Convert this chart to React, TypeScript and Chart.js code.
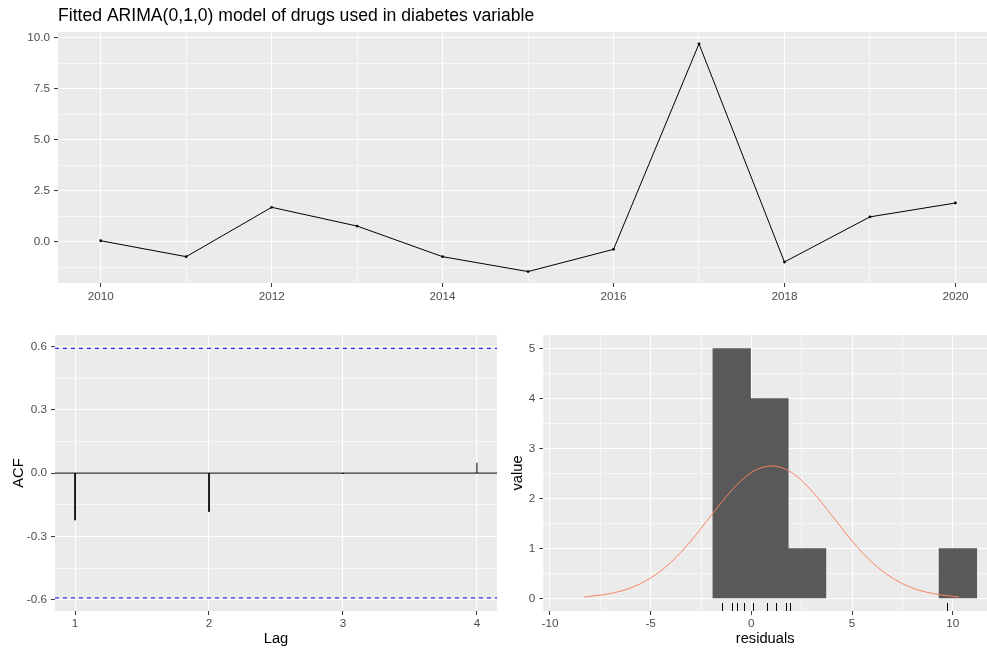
import React, { useEffect, useRef } from "react";
import { Chart, registerables } from "chart.js";

Chart.register(...registerables);

// ---------------- data ----------------
const TITLE = "Fitted ARIMA(0,1,0) model of drugs used in diabetes variable";

// residual time series (top panel)
const TS_YEARS = [2010, 2011, 2012, 2013, 2014, 2015, 2016, 2017, 2018, 2019, 2020];
const TS_VALUES = [0.06, -0.72, 1.7, 0.78, -0.72, -1.45, -0.36, 9.71, -0.98, 1.23, 1.91];
const TS_X_TICKS = [2010, 2012, 2014, 2016, 2018, 2020];
const TS_Y_TICKS = [0, 2.5, 5, 7.5, 10];
const TS_X_RANGE = [2009.5, 2020.37];
const TS_Y_RANGE = [-2.01, 10.29];

// ACF (bottom-left panel)
const ACF_LAGS = [1, 2, 3, 4];
const ACF_VALUES = [-0.223, -0.183, -0.004, 0.049];
const ACF_CI = 0.591;
const ACF_X_TICKS = [1, 2, 3, 4];
const ACF_Y_TICKS = [-0.6, -0.3, 0, 0.3, 0.6];
const ACF_X_RANGE = [0.85, 4.15];
const ACF_Y_RANGE = [-0.653, 0.654];

// histogram of residuals (bottom-right panel)
const HIST_BIN_EDGES = [-1.91, -0.04, 1.83, 3.7, 5.57, 7.44, 9.32, 11.19];
const HIST_COUNTS = [5, 4, 1, 0, 0, 0, 1];
const NORM_X = [-8.3, -7, -6, -5, -4, -3, -2, -1, 0, 1, 2, 3, 4, 5, 6, 7, 8, 9, 10.3];
const NORM_Y = [0.03, 0.1, 0.21, 0.41, 0.72, 1.15, 1.66, 2.15, 2.52, 2.65, 2.52, 2.15, 1.66, 1.15, 0.72, 0.41, 0.21, 0.1, 0.03];
const HIST_X_TICKS = [-10, -5, 0, 5, 10];
const HIST_Y_TICKS = [0, 1, 2, 3, 4, 5];
const HIST_X_RANGE = [-10.33, 11.7];
const HIST_Y_RANGE = [-0.25, 5.27];

// ---------------- styling helpers ----------------
const FONT = "'Liberation Sans', Arial, Helvetica, sans-serif";
const PANEL_BG = "#EBEBEB";
const TICK_TEXT = "#4D4D4D";

type AxisOpts = {
  range: number[];
  majors: number[];
  minors: boolean;
  fmt: (v: number) => string;
  vertical: boolean;
  size: number;
  labelPad: number;
  title?: string;
  titlePad?: any;
};

function buildTicks(majors: number[], range: number[], minors: boolean) {
  const vals: number[] = [...majors];
  if (minors) {
    const step = majors[1] - majors[0];
    for (let i = -1; i < majors.length; i++) vals.push(majors[0] + (i + 0.5) * step);
  }
  return vals.filter((v) => v >= range[0] && v <= range[1]).sort((a, b) => a - b);
}

function makeAxis(o: AxisOpts): any {
  const ticks = buildTicks(o.majors, o.range, o.minors);
  const isMajor = (v: number) => o.majors.some((m) => Math.abs(m - v) < 1e-9);
  const tickVal = (c: any) => (c && c.tick ? c.tick.value : 0);
  return {
    type: "linear",
    min: o.range[0],
    max: o.range[1],
    offset: false,
    afterBuildTicks: (s: any) => {
      s.ticks = ticks.map((v) => ({ value: v }));
    },
    afterFit: (s: any) => {
      if (o.vertical) s.width = o.size;
      else s.height = o.size;
    },
    ticks: {
      autoSkip: false,
      maxRotation: 0,
      minRotation: 0,
      padding: o.labelPad,
      color: TICK_TEXT,
      font: { family: FONT, size: 11.7 },
      callback: (v: any) => (isMajor(Number(v)) ? o.fmt(Number(v)) : ""),
    },
    grid: {
      offset: false,
      drawOnChartArea: true,
      drawTicks: true,
      tickLength: 4,
      tickWidth: 1,
      color: "#FFFFFF",
      lineWidth: (c: any) => (isMajor(tickVal(c)) ? 1.1 : 0.55),
      tickColor: (c: any) => (isMajor(tickVal(c)) ? "#333333" : "rgba(0,0,0,0)"),
    },
    border: { display: false },
    title: o.title
      ? {
          display: true,
          text: o.title,
          color: "#000000",
          font: { family: FONT, size: 14.7, lineHeight: 1.2 },
          padding: o.titlePad,
        }
      : { display: false },
  };
}

const panelBg = {
  id: "panelBg",
  beforeDraw(chart: any) {
    const { ctx, chartArea } = chart;
    ctx.save();
    ctx.fillStyle = PANEL_BG;
    ctx.fillRect(chartArea.left, chartArea.top, chartArea.right - chartArea.left, chartArea.bottom - chartArea.top);
    ctx.restore();
  },
};

const rugPlugin = {
  id: "rug",
  afterDatasetsDraw(chart: any) {
    const { ctx, chartArea, scales } = chart;
    ctx.save();
    ctx.strokeStyle = "#000000";
    ctx.lineWidth = 1;
    TS_VALUES.forEach((v) => {
      const x = Math.round(scales.x.getPixelForValue(v)) + 0.5;
      ctx.beginPath();
      ctx.moveTo(x, chartArea.bottom);
      ctx.lineTo(x, chartArea.bottom - 8);
      ctx.stroke();
    });
    ctx.restore();
  },
};

const baseOptions = {
  responsive: false,
  animation: false as const,
  events: [] as any[],
  elements: { point: { radius: 0 } },
};

function topConfig(): any {
  return {
    type: "line",
    data: {
      datasets: [
        {
          data: TS_YEARS.map((y, i) => ({ x: y, y: TS_VALUES[i] })),
          borderColor: "#000000",
          borderWidth: 1,
          tension: 0,
          pointRadius: 1.4,
          pointBorderWidth: 0,
          pointBackgroundColor: "#000000",
        },
      ],
    },
    options: {
      ...baseOptions,
      layout: { padding: 0, autoPadding: false },
      plugins: {
        legend: { display: false },
        tooltip: { enabled: false },
        title: {
          display: true,
          text: TITLE,
          align: "start",
          fullSize: false,
          color: "#000000",
          font: { family: FONT, size: 17.6, weight: "normal", lineHeight: 1.2 },
          padding: { top: 6, bottom: 4.9 },
        },
      },
      scales: {
        x: makeAxis({ range: TS_X_RANGE, majors: TS_X_TICKS, minors: true, fmt: (v) => String(v), vertical: false, size: 27, labelPad: 3 }),
        y: makeAxis({ range: TS_Y_RANGE, majors: TS_Y_TICKS, minors: true, fmt: (v) => v.toFixed(1), vertical: true, size: 58, labelPad: 4 }),
      },
    },
    plugins: [panelBg],
  };
}

function acfConfig(): any {
  const segs = ACF_LAGS.map((lag, i) => ({
    data: [
      { x: lag, y: 0 },
      { x: lag, y: ACF_VALUES[i] },
    ],
    borderColor: "#000000",
    borderWidth: 1,
    borderCapStyle: "butt",
    order: 2,
  }));
  const hline = (y: number, color: string, dash: number[], order: number, width: number) => ({
    data: [
      { x: ACF_X_RANGE[0], y },
      { x: ACF_X_RANGE[1], y },
    ],
    borderColor: color,
    borderWidth: width,
    borderDash: dash,
    order,
  });
  return {
    type: "line",
    data: {
      datasets: [
        hline(0, "#333333", [], 3, 1.1),
        ...segs,
        hline(ACF_CI, "#0000FF", [4, 4], 1, 1),
        hline(-ACF_CI, "#0000FF", [4, 4], 1, 1),
      ],
    },
    options: {
      ...baseOptions,
      layout: { padding: { top: 25, left: 0, right: 0, bottom: 0 }, autoPadding: false },
      plugins: { legend: { display: false }, tooltip: { enabled: false } },
      scales: {
        x: makeAxis({
          range: ACF_X_RANGE, majors: ACF_X_TICKS, minors: false, fmt: (v) => String(v), vertical: false, size: 37, labelPad: 2,
          title: "Lag", titlePad: { top: 0, bottom: 0.5 },
        }),
        y: makeAxis({
          range: ACF_Y_RANGE, majors: ACF_Y_TICKS, minors: true, fmt: (v) => v.toFixed(1), vertical: true, size: 55, labelPad: 4,
          title: "ACF", titlePad: { top: 10, bottom: 0 },
        }),
      },
    },
    plugins: [panelBg],
  };
}

function histConfig(): any {
  const bars = HIST_COUNTS.map((c, i) => ({ x: (HIST_BIN_EDGES[i] + HIST_BIN_EDGES[i + 1]) / 2, y: c }));
  return {
    type: "bar",
    data: {
      datasets: [
        {
          type: "line",
          data: NORM_X.map((x, i) => ({ x, y: NORM_Y[i] })),
          borderColor: "#FA8462",
          borderWidth: 1,
          cubicInterpolationMode: "monotone",
          pointRadius: 0,
          order: 0,
        },
        {
          type: "bar",
          data: bars,
          backgroundColor: "#595959",
          borderWidth: 0,
          inflateAmount: (c: any) => (c.raw && c.raw.y === 0 ? 0 : "auto"),
          barPercentage: 1,
          categoryPercentage: 1,
          grouped: false,
          order: 1,
        },
      ],
    },
    options: {
      ...baseOptions,
      layout: { padding: { top: 25, left: 0, right: 0, bottom: 0 }, autoPadding: false },
      plugins: { legend: { display: false }, tooltip: { enabled: false } },
      scales: {
        x: makeAxis({
          range: HIST_X_RANGE, majors: HIST_X_TICKS, minors: true, fmt: (v) => String(v), vertical: false, size: 37, labelPad: 2,
          title: "residuals", titlePad: { top: 0, bottom: 0.5 },
        }),
        y: makeAxis({
          range: HIST_Y_RANGE, majors: HIST_Y_TICKS, minors: true, fmt: (v) => String(v), vertical: true, size: 46.3, labelPad: 4,
          title: "value", titlePad: { top: 12.4, bottom: 0 },
        }),
      },
    },
    plugins: [panelBg, rugPlugin],
  };
}

export default function App() {
  const topRef = useRef<HTMLCanvasElement>(null);
  const acfRef = useRef<HTMLCanvasElement>(null);
  const histRef = useRef<HTMLCanvasElement>(null);

  useEffect(() => {
    const charts: Chart[] = [];
    if (topRef.current) charts.push(new Chart(topRef.current, topConfig()));
    if (acfRef.current) charts.push(new Chart(acfRef.current, acfConfig()));
    if (histRef.current) charts.push(new Chart(histRef.current, histConfig()));
    return () => charts.forEach((c) => c.destroy());
  }, []);

  return (
    <div style={{ position: "fixed", left: 0, top: 0, width: 987, height: 648, background: "#FFFFFF", overflow: "hidden" }}>
      <canvas ref={topRef} width={987} height={310} style={{ position: "absolute", left: 0, top: 0, display: "block" }} />
      <canvas ref={acfRef} width={497} height={338} style={{ position: "absolute", left: 0, top: 310, display: "block" }} />
      <canvas ref={histRef} width={490} height={338} style={{ position: "absolute", left: 497, top: 310, display: "block" }} />
    </div>
  );
}
